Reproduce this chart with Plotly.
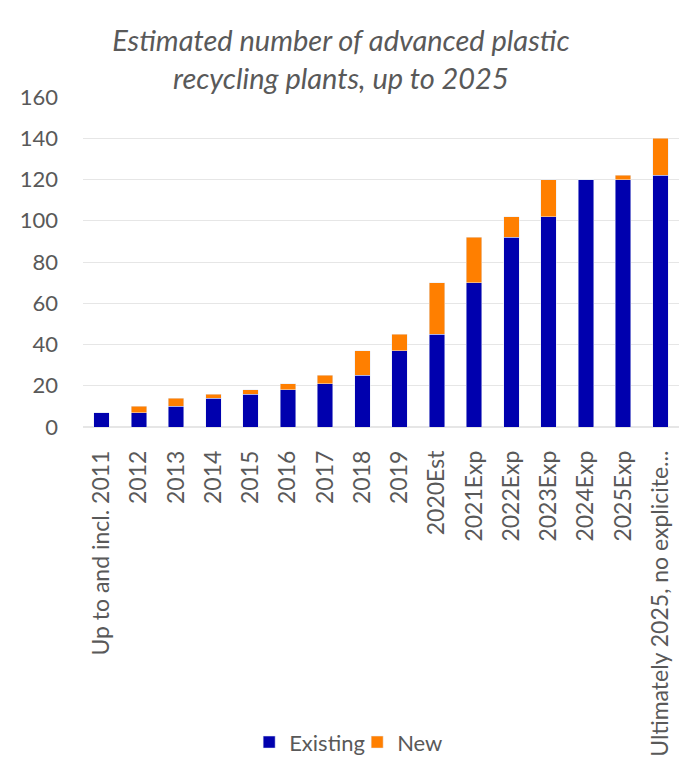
import plotly.graph_objects as go

# Data
categories = ["Up to and incl. 2011", "2012", "2013", "2014", "2015", "2016",
              "2017", "2018", "2019", "2020Est", "2021Exp", "2022Exp",
              "2023Exp", "2024Exp", "2025Exp", "Ultimately 2025, no explicite..."]
existing = [7, 7, 10, 14, 16, 18, 21, 25, 37, 45, 70, 92, 102, 120, 120, 122]
new = [0, 3, 4, 2, 2, 3, 4, 12, 8, 25, 22, 10, 18, 0, 2, 18]

font_family = "Lato, Open Sans, sans-serif"
grey = "#595959"

fig = go.Figure()
fig.add_trace(go.Bar(x=categories, y=existing, name="Existing",
                     marker_color="#0000AE"))
fig.add_trace(go.Bar(x=categories, y=new, name="New",
                     marker_color="#FF7F00"))

fig.update_layout(
    width=700, height=766,
    barmode="stack",
    bargap=0.59,
    paper_bgcolor="white",
    plot_bgcolor="white",
    margin=dict(l=83, r=21, t=97, b=339),
    font=dict(family=font_family, color=grey, size=22),
    title=dict(
        text="<i>Estimated number of advanced plastic<br>recycling plants, up to 2025</i>",
        x=0.487, xanchor="center", y=0.933, yanchor="middle",
        font=dict(size=29, color=grey),
    ),
    # legend placed against the page so it does not push the bottom margin
    legend=dict(orientation="h", x=0.46, xanchor="center",
                yref="container", y=0.031, yanchor="middle",
                font=dict(size=22, color=grey), traceorder="normal",
                entrywidth=63),
    showlegend=True,
)
fig.update_xaxes(tickangle=-90, showgrid=False, showline=False, automargin=False,
                 tickfont=dict(size=23, color=grey), ticks="", ticklabelstandoff=18)
fig.update_yaxes(range=[0, 160], dtick=20, showgrid=True, gridcolor="#E6E6E6",
                 gridwidth=1, zeroline=True, zerolinecolor="#E6E6E6", automargin=False,
                 tickfont=dict(size=22, color=grey), ticks="", ticklabelstandoff=24)

# drop the browser's default page margin so the figure sits at the window corner
fig.write_html("out.html", config={"displayModeBar": False},
               post_script="document.body.style.margin='0';")
